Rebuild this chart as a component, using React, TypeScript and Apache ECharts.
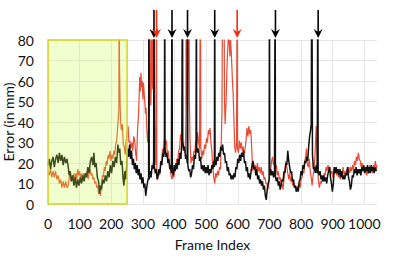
import { useEffect, useRef } from "react";
import * as echarts from "echarts";

// ---- axis / layout data ----
const X_MIN = 0;
const X_MAX = 1040;
const X_INTERVAL = 100;
const Y_MIN = 0;
const Y_MAX = 80;
const Y_INTERVAL = 10;
const X_NAME = "Frame Index";
const Y_NAME = "Error (in mm)";

// highlighted initial segment (frames)
const HIGHLIGHT_RANGE = [0, 250];

// arrows marking failure frames
const BLACK_ARROWS = [335, 392, 441, 527, 719, 854];
const RED_ARROWS = [343, 598];

// ---- series: [frame, error in mm]; values > 80 go off the top and are clipped ----
const BLACK_SERIES: [number, number][] = [
  [0,19],[4,22],[8,17],[12,21],[16,23],[20,18],[24,22],[28,24],[32,20],[36,25],[40,21],[44,24],[48,19],[52,23],[56,20],[60,22],[64,18],[67,14],[70,16],[74,11],[78,14],[82,9],[86,13],[90,8],[94,12],[98,9],[102,13],[106,10],[110,14],[114,11],[118,15],[122,13],[126,18],[130,15],[134,21],[138,23],[142,19],[145,25],[148,18],[152,20],[156,13],[160,11],[163,5],[166,9],[169,7],[173,12],[177,10],[181,14],[185,11],[189,16],[193,13],[197,19],[201,15],[205,21],[209,18],[213,23],[217,20],[221,29],[224,25],[227,27],[230,19],[234,21],[237,13],[240,9],[243,16],[246,12],[249,19],[252,27],[255,23],[258,29],[261,22],[264,26],[267,19],[270,22],[273,17],[276,20],[279,15],[282,19],[285,14],[288,17],[291,12],[294,15],[297,10],[300,13],[303,8],[306,10],[309,4],[312,8],[315,11],[318,13],[319,120],[320,12],[323,16],[326,13],[329,19],[332,17],[334,21],[335,120],[336,19],[339,15],[342,17],[345,12],[348,14],[351,17],[354,15],[357,21],[360,19],[363,25],[366,23],[368,29],[369,120],[370,27],[373,23],[376,25],[379,20],[382,22],[385,17],[388,19],[390,15],[392,120],[393,17],[396,14],[399,19],[402,16],[405,20],[408,17],[411,22],[414,19],[417,25],[420,22],[423,30],[425,120],[426,31],[429,26],[432,28],[435,22],[438,24],[440,20],[441,120],[442,19],[445,16],[448,17],[451,13],[454,15],[457,19],[460,17],[463,24],[466,22],[468,27],[469,120],[470,28],[473,25],[476,27],[479,21],[482,23],[485,17],[488,19],[491,16],[494,19],[497,15],[500,18],[503,15],[506,19],[509,14],[512,17],[515,15],[518,19],[521,17],[524,21],[526,18],[527,120],[528,21],[531,19],[534,23],[537,21],[540,25],[543,23],[546,28],[549,26],[552,29],[555,24],[558,25],[561,20],[564,21],[567,16],[570,18],[573,14],[576,15],[579,12],[582,14],[585,12],[588,15],[591,13],[594,18],[597,17],[600,22],[603,20],[606,24],[609,21],[612,25],[615,23],[618,26],[621,20],[624,21],[627,16],[630,18],[633,13],[636,15],[639,12],[642,16],[645,19],[648,21],[651,17],[654,18],[657,14],[660,17],[663,12],[666,14],[669,10],[672,12],[675,9],[678,11],[681,7],[684,9],[687,4],[690,2],[693,7],[696,10],[699,12],[700,120],[701,14],[704,17],[707,14],[710,16],[713,13],[716,15],[718,120],[719,13],[722,11],[725,13],[728,9],[731,11],[734,7],[737,9],[740,12],[743,11],[746,16],[749,15],[752,20],[755,19],[758,26],[761,21],[764,18],[767,15],[770,16],[773,11],[776,12],[779,8],[782,9],[785,6],[788,8],[791,6],[794,11],[797,12],[800,16],[803,14],[806,19],[809,17],[812,21],[815,20],[818,23],[821,21],[824,28],[827,33],[830,36],[832,39],[834,120],[836,24],[839,17],[842,18],[845,15],[848,19],[851,15],[853,120],[854,16],[857,14],[860,16],[863,12],[866,14],[869,11],[872,14],[875,11],[878,13],[881,10],[884,14],[887,16],[890,18],[893,13],[896,10],[899,6],[902,10],[905,18],[908,15],[911,18],[914,15],[917,17],[920,14],[923,17],[926,13],[929,16],[932,12],[935,14],[938,12],[941,15],[944,14],[947,18],[950,13],[953,11],[956,7],[959,9],[962,14],[965,13],[968,17],[971,15],[974,18],[977,14],[980,17],[983,15],[986,17],[989,14],[992,18],[995,16],[998,19],[1001,15],[1004,18],[1007,16],[1010,19],[1013,15],[1016,18],[1019,15],[1022,19],[1025,16],[1028,18],[1031,15],[1034,18],[1038,16]
];

const RED_SERIES: [number, number][] = [
  [0,16],[4,14],[8,17],[12,13],[16,16],[20,13],[24,16],[28,12],[32,14],[36,10],[40,12],[44,8],[48,11],[52,8],[56,11],[60,8],[64,9],[67,13],[70,15],[73,11],[76,14],[79,12],[82,15],[85,11],[88,15],[91,12],[94,17],[97,14],[100,16],[103,12],[106,15],[109,11],[112,15],[115,12],[118,15],[121,13],[124,16],[127,12],[130,16],[133,17],[136,14],[139,15],[142,12],[145,13],[148,10],[151,11],[154,8],[157,9],[160,5],[163,6],[166,4],[169,10],[172,14],[175,13],[178,18],[181,16],[184,21],[187,19],[190,24],[193,22],[196,26],[199,21],[202,24],[205,22],[208,26],[211,24],[214,29],[217,31],[220,37],[222,41],[224,46],[225,120],[226,70],[228,48],[230,39],[232,36],[235,39],[238,29],[241,28],[244,24],[247,31],[250,34],[253,38],[256,30],[259,31],[262,27],[265,30],[268,26],[271,33],[274,31],[277,25],[280,21],[283,36],[286,43],[288,52],[290,62],[292,55],[294,64],[296,57],[298,60],[300,51],[302,59],[304,54],[306,50],[308,44],[310,47],[312,38],[315,30],[318,37],[321,50],[322,120],[323,70],[325,48],[327,62],[328,120],[329,75],[331,56],[332,120],[333,64],[335,120],[337,40],[339,24],[341,19],[343,120],[344,17],[347,12],[350,16],[353,14],[356,21],[359,19],[362,27],[365,25],[368,32],[371,29],[374,31],[377,25],[380,26],[383,20],[386,18],[389,14],[392,12],[395,15],[398,13],[401,18],[404,17],[407,22],[410,20],[413,26],[416,27],[419,34],[421,31],[424,33],[427,27],[430,28],[433,25],[435,33],[436,42],[437,120],[439,60],[441,45],[443,70],[445,120],[447,50],[449,31],[452,20],[455,23],[458,21],[461,26],[464,25],[467,31],[470,29],[473,35],[476,30],[479,27],[482,120],[483,28],[486,22],[489,26],[492,24],[495,29],[498,27],[501,32],[504,30],[507,36],[510,34],[512,37],[515,30],[518,26],[521,18],[524,13],[527,10],[530,15],[533,13],[536,16],[539,14],[542,18],[545,17],[547,26],[550,45],[552,120],[554,95],[556,120],[558,50],[560,39],[563,50],[565,62],[567,72],[569,78],[571,85],[573,79],[575,72],[577,80],[579,75],[581,68],[583,60],[585,55],[588,40],[590,28],[593,25],[596,30],[598,120],[599,27],[602,25],[605,31],[608,27],[611,30],[614,26],[617,28],[620,24],[623,27],[626,31],[629,37],[632,33],[635,38],[638,34],[641,36],[644,27],[647,16],[650,20],[653,17],[656,19],[659,16],[662,20],[665,16],[668,18],[671,15],[674,18],[677,14],[680,16],[683,12],[686,13],[689,10],[692,10],[695,7],[698,10],[701,14],[704,17],[707,21],[710,23],[713,19],[716,21],[719,17],[722,19],[725,14],[728,16],[731,12],[734,13],[737,9],[740,10],[743,7],[746,12],[749,17],[752,21],[755,18],[758,15],[761,12],[764,15],[767,11],[770,13],[773,9],[776,11],[779,8],[782,9],[785,6],[788,9],[791,7],[794,10],[797,8],[800,12],[803,13],[806,16],[809,15],[812,21],[815,24],[817,27],[820,19],[823,18],[826,22],[829,16],[832,13],[835,9],[838,14],[841,17],[844,24],[846,31],[848,38],[850,27],[852,19],[855,11],[858,8],[861,11],[864,10],[867,13],[870,11],[873,15],[876,14],[879,18],[882,16],[885,19],[888,17],[891,18],[894,15],[897,16],[900,13],[903,17],[906,15],[909,18],[912,14],[915,16],[918,13],[921,14],[924,12],[927,16],[930,15],[933,18],[936,14],[939,16],[942,14],[945,17],[948,15],[951,18],[954,15],[957,18],[960,16],[963,19],[966,17],[969,21],[972,19],[975,23],[978,21],[981,25],[984,22],[987,21],[990,18],[993,20],[996,16],[999,18],[1002,15],[1005,17],[1008,14],[1011,17],[1014,15],[1017,19],[1020,16],[1023,18],[1026,15],[1029,19],[1032,18],[1035,21],[1038,17],[1040,19]
];

const FONT = "Lato, 'Open Sans', 'DejaVu Sans', sans-serif";

export default function App() {
  const ref = useRef<HTMLDivElement>(null);

  useEffect(() => {
    if (!ref.current) return;
    const chart = echarts.init(ref.current, null, { renderer: "svg" });
    chart.setOption({
      animation: false,
      backgroundColor: "#ffffff",
      textStyle: { fontFamily: FONT },
      grid: { left: 48, right: 22, top: 40, bottom: 56, outerBoundsMode: "none" },
      xAxis: {
        type: "value",
        min: X_MIN,
        max: X_MAX,
        interval: X_INTERVAL,
        name: X_NAME,
        nameLocation: "middle",
        nameGap: 33,
        nameMoveOverlap: false,
        nameTextStyle: { fontSize: 14, color: "#111", fontFamily: FONT },
        axisLine: { show: false },
        axisTick: { show: false },
        axisLabel: {
          fontSize: 14,
          color: "#111",
          margin: 12,
          fontFamily: FONT,
          showMaxLabel: false,
          formatter: (v: number) => (v % X_INTERVAL === 0 ? String(v) : ""),
        },
        splitLine: { show: true, showMaxLine: false, lineStyle: { color: "#e6e6e6", width: 1 } },
      },
      yAxis: {
        type: "value",
        min: Y_MIN,
        max: Y_MAX,
        interval: Y_INTERVAL,
        name: Y_NAME,
        nameLocation: "middle",
        nameGap: 33,
        nameMoveOverlap: false,
        nameTextStyle: { fontSize: 14, color: "#111", fontFamily: FONT },
        axisLine: { show: false },
        axisTick: { show: false },
        axisLabel: { fontSize: 14, color: "#111", margin: 14, fontFamily: FONT },
        splitLine: { show: true, lineStyle: { color: "#e6e6e6", width: 1 } },
      },
      series: [
        {
          type: "line",
          data: RED_SERIES,
          showSymbol: false,
          symbol: "none",
          clip: true,
          lineStyle: { color: "#e84a33", width: 1.2 },
          z: 2,
        },
        {
          type: "line",
          data: BLACK_SERIES,
          showSymbol: false,
          symbol: "none",
          clip: true,
          lineStyle: { color: "#111111", width: 1.5 },
          z: 3,
        },
      ],
    });

    const cs = { xAxisIndex: 0, yAxisIndex: 0 };
    const top = chart.convertToPixel(cs, [0, Y_MAX])[1];
    const elements: any[] = [];

    // highlighted segment drawn over the lines
    const p0 = chart.convertToPixel(cs, [HIGHLIGHT_RANGE[0], Y_MAX]);
    const p1 = chart.convertToPixel(cs, [HIGHLIGHT_RANGE[1], Y_MIN]);
    elements.push({
      type: "rect",
      shape: { x: p0[0], y: p0[1], width: p1[0] - p0[0], height: p1[1] - p0[1] },
      style: { fill: "rgba(200,255,60,0.25)", stroke: "#d4d41e", lineWidth: 1.5 },
      z: 50,
      silent: true,
    });

    const addArrow = (frame: number, color: string) => {
      const x = chart.convertToPixel(cs, [frame, Y_MAX])[0];
      elements.push({
        type: "line",
        shape: { x1: x, y1: top - 30, x2: x, y2: top - 7 },
        style: { stroke: color, lineWidth: 1.6 },
        z: 60,
      });
      elements.push({
        type: "polygon",
        shape: { points: [[x, top - 2], [x - 4.5, top - 11], [x, top - 8], [x + 4.5, top - 11]] },
        style: { fill: color },
        z: 60,
      });
    };
    BLACK_ARROWS.forEach((f) => addArrow(f, "#000000"));
    RED_ARROWS.forEach((f) => addArrow(f, "#ff2a0a"));
    chart.setOption({ graphic: { elements } });

    return () => chart.dispose();
  }, []);

  return (
    <div
      ref={ref}
      style={{ position: "fixed", left: 0, top: 0, width: 399, height: 260, background: "#fff" }}
    />
  );
}
